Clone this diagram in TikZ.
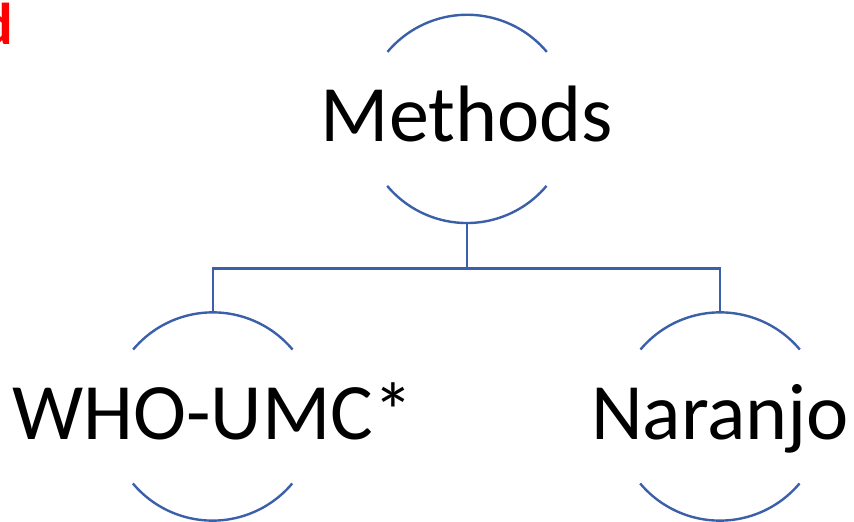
\documentclass[tikz,border=0pt]{standalone}
\usepackage{fontspec}
\setmainfont{Carlito}
\definecolor{arcblue}{RGB}{59,95,168}
\definecolor{markred}{RGB}{255,0,0}
\begin{document}
\begin{tikzpicture}[x=1pt,y=1pt,
  ring/.style={circle,minimum size=208pt,inner sep=0pt,draw=none},
  ringarc/.style={draw=arcblue,line width=2.4pt},
  link/.style={draw=arcblue,line width=2.4pt},
  big/.style={font=\fontsize{80}{96}\selectfont,text=black,inner sep=0pt,anchor=base}]
\useasboundingbox (0,0) rectangle (854,522);
\clip (0,0) rectangle (854,522);

% partial red letter at the left edge
\node[font=\bfseries\fontsize{59}{70}\selectfont,text=markred,inner sep=0pt,anchor=base east] (mark) at (13,477) {d};

% circles carrying the labels
\node[ring] (m) at (467,403.1) {};
\node[ring] (w) at (212.7,105.5) {};
\node[ring] (n) at (720,105.5) {};

\node[big] (mt) at ([yshift=-23pt]m.center) {Methods};
\node[big] (wt) at ([yshift=-23.5pt]w.center) {WHO-UMC*};
\node[big] (nt) at ([yshift=-23.5pt]n.center) {Naranjo};

% open arcs above and below each label
\foreach \c in {m,w,n}{
  \draw[ringarc] (\c.40) arc[start angle=40,end angle=140,radius=104pt];
  \draw[ringarc] (\c.220) arc[start angle=220,end angle=320,radius=104pt];
}

% tree connector
\coordinate (j) at (467,253.5);
\draw[link] (m.south) -- (j) -| (w.north);
\draw[link] (j) -| (n.north);
\end{tikzpicture}
\end{document}
